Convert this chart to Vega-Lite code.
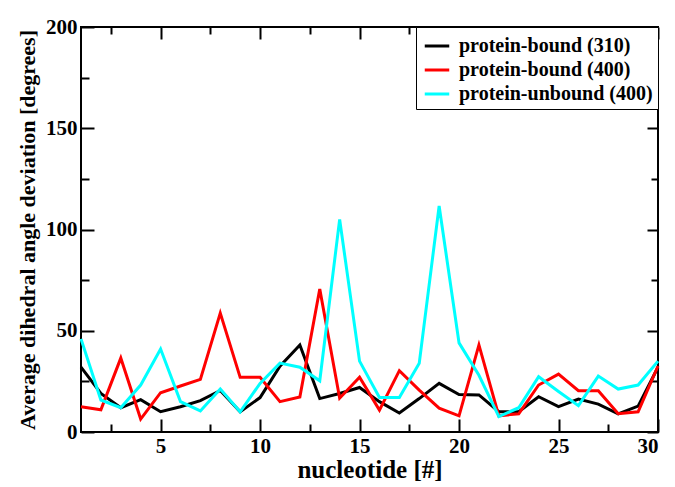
{
  "$schema": "https://vega.github.io/schema/vega-lite/v6.json",
  "width": 577,
  "height": 405,
  "autosize": "none",
  "padding": {"left": 81, "top": 27, "right": 17, "bottom": 55},
  "background": "white",
  "config": {
    "font": "Liberation Serif",
    "view": {"stroke": "black", "strokeWidth": 2},
    "axis": {"grid": false, "domain": false, "tickColor": "black", "tickWidth": 2,
      "labelFont": "Liberation Serif", "labelFontWeight": "bold", "labelFontSize": 21, "labelColor": "black",
      "titleFont": "Liberation Serif", "titleFontWeight": "bold", "titleColor": "black"},
    "legend": {"labelFont": "Liberation Serif"}
  },
  "data": {"values": [
    {"n":1,"s":"protein-bound (310)","v":32},{"n":2,"s":"protein-bound (310)","v":19},{"n":3,"s":"protein-bound (310)","v":12},{"n":4,"s":"protein-bound (310)","v":16},{"n":5,"s":"protein-bound (310)","v":10},{"n":6,"s":"protein-bound (310)","v":12.5},{"n":7,"s":"protein-bound (310)","v":15.5},{"n":8,"s":"protein-bound (310)","v":20.5},{"n":9,"s":"protein-bound (310)","v":10},{"n":10,"s":"protein-bound (310)","v":17},
    {"n":11,"s":"protein-bound (310)","v":32.5},{"n":12,"s":"protein-bound (310)","v":43},{"n":13,"s":"protein-bound (310)","v":16.5},{"n":14,"s":"protein-bound (310)","v":19},{"n":15,"s":"protein-bound (310)","v":22},{"n":16,"s":"protein-bound (310)","v":15},{"n":17,"s":"protein-bound (310)","v":9.4},{"n":18,"s":"protein-bound (310)","v":16.5},{"n":19,"s":"protein-bound (310)","v":24},{"n":20,"s":"protein-bound (310)","v":18.5},
    {"n":21,"s":"protein-bound (310)","v":18.3},{"n":22,"s":"protein-bound (310)","v":10},{"n":23,"s":"protein-bound (310)","v":10},{"n":24,"s":"protein-bound (310)","v":17.4},{"n":25,"s":"protein-bound (310)","v":12.5},{"n":26,"s":"protein-bound (310)","v":16.3},{"n":27,"s":"protein-bound (310)","v":13.8},{"n":28,"s":"protein-bound (310)","v":9},{"n":29,"s":"protein-bound (310)","v":12.8},{"n":30,"s":"protein-bound (310)","v":32},
    {"n":1,"s":"protein-bound (400)","v":12.5},{"n":2,"s":"protein-bound (400)","v":11},{"n":3,"s":"protein-bound (400)","v":36.5},{"n":4,"s":"protein-bound (400)","v":6.4},{"n":5,"s":"protein-bound (400)","v":19.4},{"n":6,"s":"protein-bound (400)","v":22.7},{"n":7,"s":"protein-bound (400)","v":26},{"n":8,"s":"protein-bound (400)","v":58.7},{"n":9,"s":"protein-bound (400)","v":27},{"n":10,"s":"protein-bound (400)","v":27},
    {"n":11,"s":"protein-bound (400)","v":15},{"n":12,"s":"protein-bound (400)","v":17.3},{"n":13,"s":"protein-bound (400)","v":70.6},{"n":14,"s":"protein-bound (400)","v":16.7},{"n":15,"s":"protein-bound (400)","v":27},{"n":16,"s":"protein-bound (400)","v":10.8},{"n":17,"s":"protein-bound (400)","v":30.3},{"n":18,"s":"protein-bound (400)","v":20.7},{"n":19,"s":"protein-bound (400)","v":11.8},{"n":20,"s":"protein-bound (400)","v":8},
    {"n":21,"s":"protein-bound (400)","v":43},{"n":22,"s":"protein-bound (400)","v":8},{"n":23,"s":"protein-bound (400)","v":9},{"n":24,"s":"protein-bound (400)","v":23.2},{"n":25,"s":"protein-bound (400)","v":28.6},{"n":26,"s":"protein-bound (400)","v":20.4},{"n":27,"s":"protein-bound (400)","v":20.4},{"n":28,"s":"protein-bound (400)","v":9},{"n":29,"s":"protein-bound (400)","v":10},{"n":30,"s":"protein-bound (400)","v":32.6},
    {"n":1,"s":"protein-unbound (400)","v":46},{"n":2,"s":"protein-unbound (400)","v":15.8},{"n":3,"s":"protein-unbound (400)","v":12},{"n":4,"s":"protein-unbound (400)","v":23.2},{"n":5,"s":"protein-unbound (400)","v":41},{"n":6,"s":"protein-unbound (400)","v":15},{"n":7,"s":"protein-unbound (400)","v":10.4},{"n":8,"s":"protein-unbound (400)","v":21.2},{"n":9,"s":"protein-unbound (400)","v":10},{"n":10,"s":"protein-unbound (400)","v":24},
    {"n":11,"s":"protein-unbound (400)","v":34},{"n":12,"s":"protein-unbound (400)","v":32},{"n":13,"s":"protein-unbound (400)","v":25.3},{"n":14,"s":"protein-unbound (400)","v":105},{"n":15,"s":"protein-unbound (400)","v":35},{"n":16,"s":"protein-unbound (400)","v":17},{"n":17,"s":"protein-unbound (400)","v":17},{"n":18,"s":"protein-unbound (400)","v":34},{"n":19,"s":"protein-unbound (400)","v":111.6},{"n":20,"s":"protein-unbound (400)","v":44},
    {"n":21,"s":"protein-unbound (400)","v":28},{"n":22,"s":"protein-unbound (400)","v":7.6},{"n":23,"s":"protein-unbound (400)","v":12},{"n":24,"s":"protein-unbound (400)","v":27.3},{"n":25,"s":"protein-unbound (400)","v":20},{"n":26,"s":"protein-unbound (400)","v":13},{"n":27,"s":"protein-unbound (400)","v":27.6},{"n":28,"s":"protein-unbound (400)","v":21.2},{"n":29,"s":"protein-unbound (400)","v":23.2},{"n":30,"s":"protein-unbound (400)","v":35}
  ]},
  "resolve": {"axis": {"x": "independent", "y": "independent"}},
  "layer": [
    {
      "mark": {"type": "line", "opacity": 0},
      "encoding": {
        "x": {"field": "n", "type": "quantitative", "scale": {"domain": [1, 30], "nice": false, "zero": false},
          "axis": {"orient": "bottom", "title": "nucleotide [#]", "titleFontSize": 25, "titlePadding": 1,
            "values": [2.5,5,7.5,10,12.5,15,17.5,20,22.5,25,27.5,30],
            "labelExpr": "datum.value % 5 === 0 ? datum.label : ''",
            "tickSize": -13,
            "tickDash": {"condition": {"test": "datum.value % 5 === 0", "value": [20, 0]}, "value": [8, 30]},
            "labelPadding": 16}},
        "y": {"field": "v", "type": "quantitative", "scale": {"domain": [0, 200], "nice": false},
          "axis": {"orient": "left", "title": "Average dihedral angle deviation [degrees]", "titleFontSize": 22, "titlePadding": 6,
            "values": [0,25,50,75,100,125,150,175,200],
            "labelExpr": "datum.value % 50 === 0 ? datum.label : ''",
            "tickSize": -13,
            "tickDash": {"condition": {"test": "datum.value % 50 === 0", "value": [20, 0]}, "value": [8, 30]},
            "labelPadding": 17}},
        "detail": {"field": "s"}
      }
    },
    {
      "mark": {"type": "line", "strokeWidth": 3},
      "encoding": {
        "x": {"field": "n", "type": "quantitative",
          "axis": {"orient": "top", "title": null, "labels": false,
            "values": [2.5,5,7.5,10,12.5,15,17.5,20,22.5,25,27.5,30],
            "tickSize": -12,
            "tickDash": {"condition": {"test": "datum.value % 5 === 0", "value": [20, 0]}, "value": [7, 30]}}},
        "y": {"field": "v", "type": "quantitative",
          "axis": {"orient": "right", "title": null, "labels": false,
            "values": [0,25,50,75,100,125,150,175,200],
            "tickSize": -11,
            "tickDash": {"condition": {"test": "datum.value % 50 === 0", "value": [20, 0]}, "value": [7, 30]}}},
        "color": {"field": "s", "type": "nominal", "title": null,
          "scale": {"domain": ["protein-bound (310)", "protein-bound (400)", "protein-unbound (400)"], "range": ["#000000", "#ff0000", "#00ffff"]},
          "legend": {"orient": "top-right", "offset": 0, "strokeColor": "black", "fillColor": "white", "padding": 5,
            "symbolType": "stroke", "symbolSize": 600, "symbolStrokeWidth": 3, "symbolOffset": 2, "labelOffset": 8,
            "labelFont": "Liberation Serif", "labelFontWeight": "bold", "labelFontSize": 20, "labelColor": "black",
            "labelLimit": 400, "rowPadding": 0}}
      }
    }
  ]
}
